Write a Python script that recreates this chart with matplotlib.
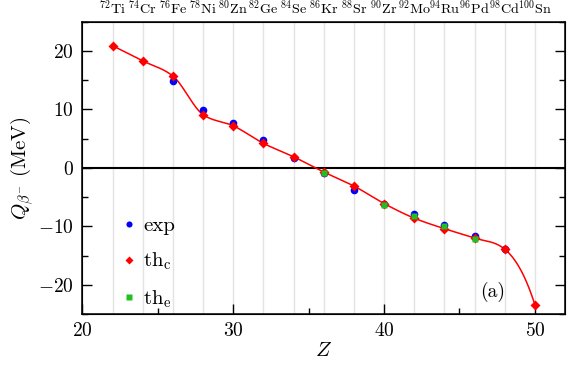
import numpy as np
import matplotlib
matplotlib.use("Agg")
import matplotlib.pyplot as plt
from matplotlib.ticker import MultipleLocator

plt.rcParams["font.family"] = "serif"
plt.rcParams["font.serif"] = ["cmr10", "DejaVu Serif"]
plt.rcParams["mathtext.fontset"] = "cm"
plt.rcParams["axes.formatter.use_mathtext"] = True

# --- data ---
z_thc = [22, 24, 26, 28, 30, 32, 34, 36, 38, 40, 42, 44, 46, 48, 50]
q_thc = [20.9, 18.3, 15.7, 9.1, 7.2, 4.2, 1.9, -0.7, -3.1, -6.1, -8.6, -10.4, -12.0, -13.9, -23.4]

z_exp = [26, 28, 30, 32, 34, 36, 38, 40, 42, 44, 46, 48]
q_exp = [14.9, 9.9, 7.6, 4.7, 1.7, -0.8, -3.8, -6.2, -7.9, -9.7, -11.6, -13.9]

z_the = [36, 40, 42, 44, 46]
q_the = [-0.8, -6.3, -8.2, -10.0, -12.1]

top_z = [22, 24, 26, 28, 30, 32, 34, 36, 38, 40, 42, 44, 46, 48, 50]
top_nuclei = [("72", "Ti"), ("74", "Cr"), ("76", "Fe"), ("78", "Ni"), ("80", "Zn"),
              ("82", "Ge"), ("84", "Se"), ("86", "Kr"), ("88", "Sr"), ("90", "Zr"),
              ("92", "Mo"), ("94", "Ru"), ("96", "Pd"), ("98", "Cd"), ("100", "Sn")]


def smooth_curve(x, y, n=40):
    # cubic hermite curve through the points, only used to draw the line
    x = np.asarray(x, float)
    y = np.asarray(y, float)
    h = np.diff(x)
    d = np.diff(y) / h
    m = np.zeros_like(y)
    for k in range(1, len(x) - 1):
        if d[k - 1] * d[k] > 0:
            m[k] = np.sign(d[k]) * np.sqrt(d[k - 1] * d[k])
    m[0] = d[0]
    m[-1] = 1.7 * d[-1]   # steep end, as in the original curve
    xs, ys = [], []
    for k in range(len(x) - 1):
        t = np.linspace(0, 1, n)
        h00 = 2 * t**3 - 3 * t**2 + 1
        h10 = t**3 - 2 * t**2 + t
        h01 = -2 * t**3 + 3 * t**2
        h11 = t**3 - t**2
        xs.append(x[k] + t * h[k])
        ys.append(h00 * y[k] + h10 * h[k] * m[k] + h01 * y[k + 1] + h11 * h[k] * m[k + 1])
    return np.concatenate(xs), np.concatenate(ys)


fig = plt.figure(figsize=(5.67, 3.69), dpi=100)
ax = fig.add_axes([0.1455, 0.149, 0.851, 0.792])

for z in top_z:
    ax.axvline(z, color="#e3e3e3", lw=1.0, zorder=0)
ax.axhline(0, color="black", lw=1.5, zorder=1)

cx, cy = smooth_curve(z_thc, q_thc)
ax.plot(cx, cy, color="red", lw=1.1, zorder=2)

ax.plot(z_exp, q_exp, "o", color="blue", ms=5.5, mec="none", zorder=3, label="exp")
ax.plot(z_thc, q_thc, "D", color="red", ms=4.6, mec="none", zorder=4, label=r"th$_\mathrm{c}$")
ax.plot(z_the, q_the, "s", color="#1fc01f", ms=4.8, mec="none", zorder=5, label=r"th$_\mathrm{e}$")

ax.set_xlim(20, 52)
ax.set_ylim(-25, 25)
ax.xaxis.set_major_locator(MultipleLocator(10))
ax.xaxis.set_minor_locator(MultipleLocator(5))
ax.yaxis.set_major_locator(MultipleLocator(10))
ax.yaxis.set_minor_locator(MultipleLocator(5))
ax.tick_params(which="both", direction="in", top=True, right=True, labelsize=14, width=1)
ax.tick_params(which="major", length=7, pad=6)
ax.tick_params(which="minor", length=4)
for s in ax.spines.values():
    s.set_linewidth(1.1)

ax.set_xlabel(r"$Z$", fontsize=15, labelpad=1)
ax.set_ylabel(r"$Q_{\beta^{-}}$ (MeV)", fontsize=15, labelpad=2)

ax2 = ax.twiny()
ax2.set_xlim(ax.get_xlim())
ax2.set_xticks(top_z)
ax2.set_xticklabels([r"$^{%s}\mathrm{%s}$" % (a, e) for a, e in top_nuclei], fontsize=10.2)
ax2.tick_params(length=0, pad=3)

ax.text(47.2, -21.3, "(a)", fontsize=14, ha="center", va="center")

ax.legend(loc="lower left", bbox_to_anchor=(0.055, -0.035), frameon=False, fontsize=15,
          markerscale=0.8, handlelength=0.5, handletextpad=0.45, labelspacing=0.75,
          borderaxespad=0.3)

fig.savefig("out.png", dpi=100)
